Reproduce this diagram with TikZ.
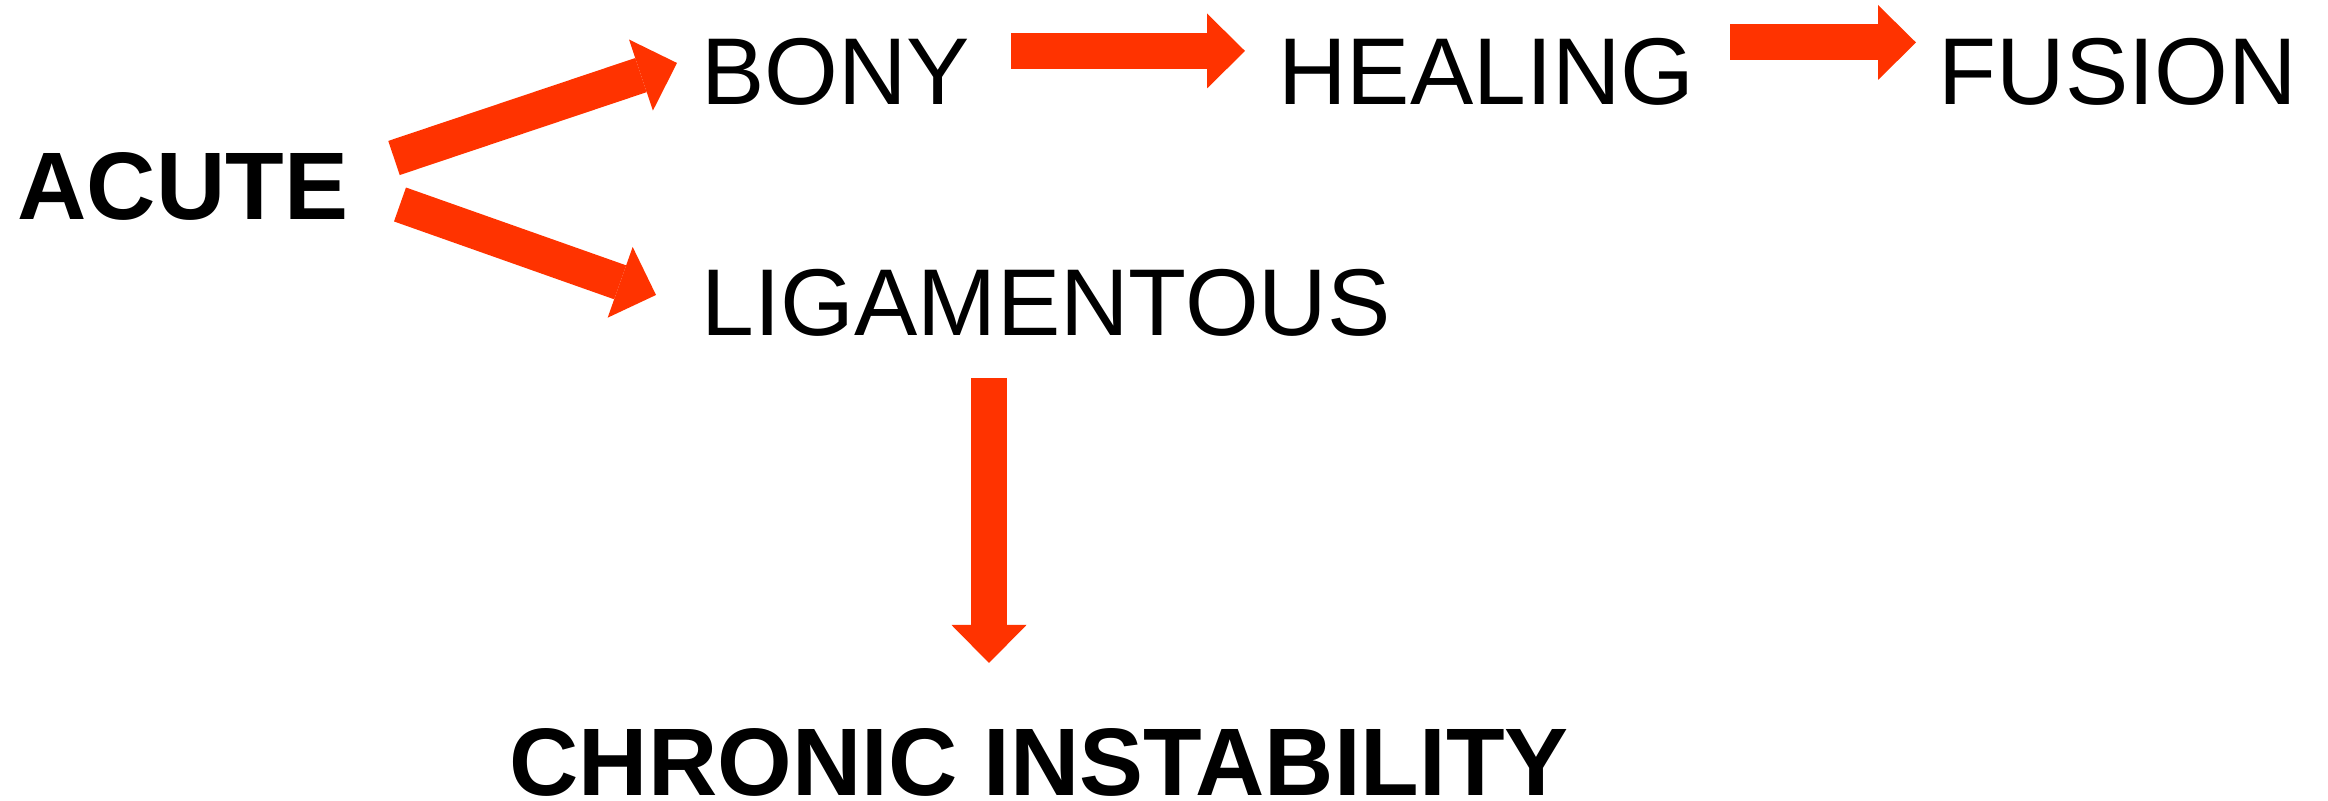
\documentclass[tikz,border=0pt]{standalone}
\usepackage{fontspec}
\setmainfont{Liberation Sans}
\usetikzlibrary{arrows.meta,positioning}
\definecolor{arroworange}{RGB}{255,51,0}

\begin{document}
\begin{tikzpicture}[
        stage/.style={inner sep=0pt, anchor=base west, font=\fontsize{27}{32}\selectfont},
        keystage/.style={stage, font=\fontsize{27.3}{32}\selectfont\bfseries},
        fatarrow/.style={arroworange, line width=0.36cm, -{Triangle[length=0.38cm, width=0.75cm, line width=0pt]}}
    ]
        \useasboundingbox (0,0) rectangle (23.28,-8.01);

        % Stages
        \node[keystage] (acute) at (0.17,-2.20) {ACUTE};
        \node[stage] (bony) at (7.005,-1.05) {BONY};
        \node[stage] (healing) at (12.775,-1.05) {HEALING};
        \node[stage] (fusion) at (19.38,-1.05) {FUSION};
        \node[stage] (lig) at (7.01,-3.36) {LIGAMENTOUS};
        \node[keystage] (chronic) at (5.09,-7.96) {CHRONIC INSTABILITY};

        % Arrow ends
        \coordinate (acute-up) at (3.94,-1.58);
        \coordinate (bony-in) at (6.77,-0.63);
        \coordinate (acute-down) at (4.00,-2.045);
        \coordinate (lig-in) at (6.56,-2.95);
        \coordinate (bony-out) at (10.11,-0.51);
        \coordinate (healing-in) at (12.45,-0.51);
        \coordinate (healing-out) at (17.30,-0.425);
        \coordinate (fusion-in) at (19.16,-0.425);
        \coordinate (lig-out) at (9.89,-3.78);
        \coordinate (chronic-in) at (9.89,-6.63);

        % Arrows
        \foreach \i/\j in {acute-up/bony-in, acute-down/lig-in, bony-out/healing-in, healing-out/fusion-in, lig-out/chronic-in} {
            \draw[fatarrow] (\i) -- (\j);
        }
\end{tikzpicture}
\end{document}
